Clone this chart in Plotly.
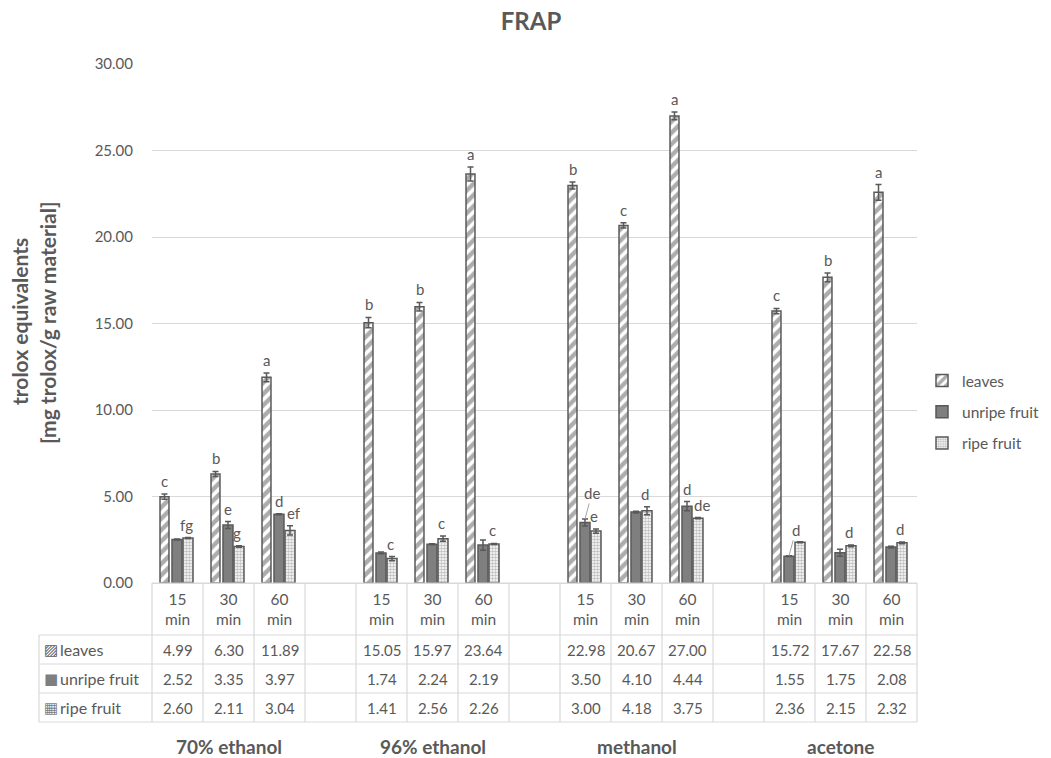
import plotly.graph_objects as go

# ---------------- data ----------------
groups = ["70% ethanol", "96% ethanol", "methanol", "acetone"]
times = ["15<br>min", "30<br>min", "60<br>min"]
series_names = ["leaves", "unripe fruit", "ripe fruit"]

leaves = [4.99, 6.30, 11.89, 15.05, 15.97, 23.64, 22.98, 20.67, 27.00, 15.72, 17.67, 22.58]
unripe = [2.52, 3.35, 3.97, 1.74, 2.24, 2.19, 3.50, 4.10, 4.44, 1.55, 1.75, 2.08]
ripe = [2.60, 2.11, 3.04, 1.41, 2.56, 2.26, 3.00, 4.18, 3.75, 2.36, 2.15, 2.32]

leaves_err = [0.15, 0.15, 0.25, 0.30, 0.25, 0.40, 0.20, 0.15, 0.22, 0.15, 0.25, 0.45]
unripe_err = [0.03, 0.20, 0.03, 0.05, 0.03, 0.30, 0.20, 0.05, 0.27, 0.02, 0.20, 0.05]
ripe_err = [0.03, 0.05, 0.27, 0.12, 0.15, 0.03, 0.12, 0.23, 0.03, 0.03, 0.05, 0.05]

leaves_letters = ["c", "b", "a", "b", "b", "a", "b", "c", "a", "c", "b", "a"]
unripe_letters = ["", "e", "d", "", "", "", "de", "", "d", "d", "", ""]
ripe_letters = ["fg", "g", "ef", "c", "c", "c", "e", "d", "de", "", "d", "d"]

# ---------------- styling ----------------
FONT = "Lato, DejaVu Sans, sans-serif"
TXT = "#595959"
GRID = "#d9d9d9"
W, H = 1051, 758
PL, PR, PT, PB = 152, 917, 64, 583  # plot area in px

def px_x(px):
    return (px - PL) / (PR - PL)

def px_y(py):
    return (PB - py) / (PB - PT)

n = len(leaves)
slots = [(i // 3) * 4 + (i % 3) for i in range(n)]

bar_geo = {  # offset, width (in slot units)
    "leaves": (-0.343, 0.176),
    "unripe fruit": (-0.108, 0.196),
    "ripe fruit": (0.108, 0.196),
}

fig = go.Figure()

series = [
    ("leaves", leaves, leaves_err,
     dict(color="white", line=dict(color=TXT, width=1.5),
          pattern=dict(shape="/", fgcolor=TXT, bgcolor="white", size=8, solidity=0.55))),
    ("unripe fruit", unripe, unripe_err,
     dict(color="#7f7f7f", line=dict(color=TXT, width=1.5))),
    ("ripe fruit", ripe, ripe_err,
     dict(color="white", line=dict(color=TXT, width=1.5),
          pattern=dict(shape=".", fgcolor="#7f7f7f", bgcolor="white", size=3, solidity=0.55))),
]

for k, (name, vals, errs, marker) in enumerate(series):
    off, wid = bar_geo[name]
    fig.add_trace(go.Bar(
        x=slots, y=vals, name=name, offset=off, width=wid,
        marker=marker, legendgroup=name,
        error_y=dict(type="data", array=errs, visible=True, color=TXT, thickness=1.5, width=3),
    ))

annotations = []
shapes = []

def center(name, s):
    off, wid = bar_geo[name]
    return s + off + wid / 2

letter_font = dict(family=FONT, size=15, color=TXT)
for i in range(n):
    s = slots[i]
    if leaves_letters[i]:
        annotations.append(dict(x=center("leaves", s), y=leaves[i] + leaves_err[i], xref="x", yref="y",
                                text=leaves_letters[i], showarrow=False, xanchor="center",
                                yanchor="bottom", yshift=2, font=letter_font))
    if unripe_letters[i]:
        top = unripe[i] + unripe_err[i]
        if i in (6, 9):  # labels with leader lines
            annotations.append(dict(x=center("unripe fruit", s), y=top, xref="x", yref="y",
                                    text=unripe_letters[i], showarrow=True, arrowhead=0, arrowwidth=1,
                                    arrowcolor="#a6a6a6", ax=7, ay=-26, font=letter_font))
        else:
            annotations.append(dict(x=center("unripe fruit", s), y=top, xref="x", yref="y",
                                    text=unripe_letters[i], showarrow=False, xanchor="center",
                                    yanchor="bottom", yshift=2, font=letter_font))
    if ripe_letters[i]:
        annotations.append(dict(x=center("ripe fruit", s), y=ripe[i] + ripe_err[i], xref="x", yref="y",
                                text=ripe_letters[i], showarrow=False, xanchor="center",
                                yanchor="bottom", yshift=2,
                                xshift=4 if len(ripe_letters[i]) > 1 and i > 0 else -2,
                                font=letter_font))

# ---------------- data table ----------------
row_y = [583, 635, 664, 693, 722]
line = dict(color=GRID, width=1.2)
# horizontal lines
shapes.append(dict(type="line", xref="paper", yref="paper", x0=0, x1=1,
                   y0=px_y(row_y[0]), y1=px_y(row_y[0]), line=line))
for ry in row_y[1:]:
    shapes.append(dict(type="line", xref="paper", yref="paper", x0=px_x(39), x1=1,
                       y0=px_y(ry), y1=px_y(ry), line=line))
# vertical lines
for k in range(16):
    shapes.append(dict(type="line", xref="paper", yref="paper", x0=k / 15, x1=k / 15,
                       y0=px_y(row_y[0]), y1=px_y(row_y[-1]), line=line))
shapes.append(dict(type="line", xref="paper", yref="paper", x0=px_x(39), x1=px_x(39),
                   y0=px_y(row_y[1]), y1=px_y(row_y[-1]), line=line))

tfont = dict(family=FONT, size=15.5, color=TXT)
for i in range(n):
    xc = (slots[i] + 0.5) / 15
    annotations.append(dict(x=xc, y=px_y((row_y[0] + row_y[1]) / 2), xref="paper", yref="paper",
                            xanchor="center", yanchor="middle",
                            text=times[i % 3], showarrow=False, font=tfont, align="center"))
    for r, vals in enumerate([leaves, unripe, ripe]):
        annotations.append(dict(x=xc, y=px_y((row_y[r + 1] + row_y[r + 2]) / 2), xref="paper", yref="paper",
                                xanchor="center", yanchor="middle",
                                text=f"{vals[i]:.2f}", showarrow=False,
                                font=dict(family=FONT, size=15, color=TXT)))

symbols = ["▨", "■", "▦"]
sym_colors = [TXT, "#7f7f7f", "#7f7f7f"]
for r, nm in enumerate(series_names):
    yc = px_y((row_y[r + 1] + row_y[r + 2]) / 2)
    annotations.append(dict(x=px_x(42), y=yc, xref="paper", yref="paper", xanchor="left",
                            yanchor="middle", text=symbols[r], showarrow=False,
                            font=dict(family="DejaVu Sans", size=15, color=sym_colors[r])))
    annotations.append(dict(x=px_x(58), y=yc, xref="paper", yref="paper", xanchor="left",
                            yanchor="middle", text=nm, showarrow=False,
                            font=dict(family=FONT, size=16, color=TXT)))

for g, gname in enumerate(groups):
    xc = (g * 4 + 1 + 0.5) / 15
    annotations.append(dict(x=xc, y=px_y(746), xref="paper", yref="paper",
                            xanchor="center", yanchor="middle",
                            text=f"<b>{gname}</b>", showarrow=False,
                            font=dict(family=FONT, size=19, color=TXT)))

# y axis title (two lines)
annotations.append(dict(x=px_x(19), y=px_y(322), xref="paper", yref="paper", textangle=-90,
                        xanchor="center", yanchor="middle",
                        text="<b>trolox equivalents</b>", showarrow=False,
                        font=dict(family=FONT, size=21, color=TXT)))
annotations.append(dict(x=px_x(47), y=px_y(322), xref="paper", yref="paper", textangle=-90,
                        xanchor="center", yanchor="middle",
                        text="<b>[mg trolox/g raw material]</b>", showarrow=False,
                        font=dict(family=FONT, size=21, color=TXT)))

fig.update_layout(
    width=W, height=H,
    margin=dict(l=PL, r=W - PR, t=PT, b=H - PB, autoexpand=False),
    paper_bgcolor="white", plot_bgcolor="white",
    barmode="overlay",
    title=dict(text="<b>FRAP</b>", x=531 / W, xref="container", xanchor="center",
               y=1 - 22 / H, yref="container", yanchor="middle",
               font=dict(family=FONT, size=24, color=TXT)),
    xaxis=dict(range=[-0.5, 14.5], showticklabels=False, showgrid=False, zeroline=False,
               showline=False, ticks=""),
    yaxis=dict(range=[0, 30], dtick=5, tickformat=".2f", showgrid=True, gridcolor=GRID,
               gridwidth=1, zeroline=True, zerolinecolor=GRID, zerolinewidth=1, showline=False,
               ticks="", ticklabelstandoff=18,
               tickfont=dict(family=FONT, size=15, color=TXT)),
    legend=dict(x=px_x(922), y=px_y(412), xanchor="left", yanchor="middle",
                font=dict(family=FONT, size=15.5, color=TXT), tracegroupgap=8,
                itemwidth=30, bgcolor="rgba(0,0,0,0)"),
    showlegend=True,
    annotations=annotations,
    shapes=shapes,
)

fig.write_html("out.html", config={"displayModeBar": False},
               post_script="document.body.style.margin='0';")
